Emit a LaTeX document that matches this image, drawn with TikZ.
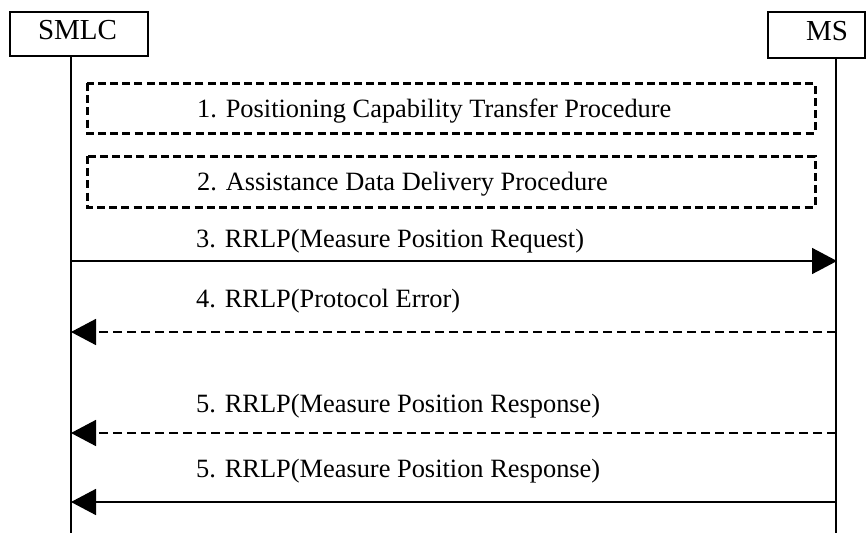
\documentclass[tikz,border=0pt]{standalone}
\usepackage{fontspec}
\setmainfont{Liberation Serif}
\usetikzlibrary{arrows.meta}
\begin{document}
\begin{tikzpicture}[x=1pt,y=-1pt,
  font=\fontsize{26.4}{30}\selectfont,
  entity/.style={draw,line width=1.3pt,inner sep=0pt},
  entname/.style={font=\fontsize{29}{32}\selectfont,inner sep=0pt,anchor=base},
  lifeline/.style={line width=1.5pt},
  procbox/.style={draw,line width=3pt,dash pattern=on 8pt off 4.2pt},
  msg/.style={line width=1.6pt,-{Triangle[length=25pt,width=26pt]}},
  dmsg/.style={msg,dash pattern=on 9pt off 5pt},
  lbl/.style={anchor=base west,inner sep=0pt}]
\useasboundingbox (0,0) rectangle (866,533);
% entities
\node[entity,minimum width=138pt,minimum height=44pt] (smlc) at (79,34) {};
\node[entname] (smlct) at (77.5,39) {SMLC};
\node[entity,minimum width=97pt,minimum height=46pt] (ms) at (816.5,35) {};
\node[entname] (mst) at (827,40) {MS};
% lifelines
\coordinate (sTop) at (71,56);
\coordinate (sBot) at (71,533);
\coordinate (mTop) at (836,58);
\coordinate (mBot) at (836,533);
\draw[lifeline] (sTop) -- (sBot);
\draw[lifeline] (mTop) -- (mBot);
% procedure boxes
\coordinate (b1a) at (87,83);
\coordinate (b1b) at (815,133);
\coordinate (b2a) at (87,156);
\coordinate (b2b) at (815,207);
\draw[procbox] (b1a) rectangle (b1b);
\draw[procbox] (b2a) rectangle (b2b);
\node[lbl] (t1) at (197,117) {1. Positioning Capability Transfer Procedure};
\node[lbl] (t2) at (197,190) {2. Assistance Data Delivery Procedure};
% messages
\coordinate (s3) at (71,261);  \coordinate (m3) at (837,261);
\coordinate (s4) at (71,332);  \coordinate (m4) at (836,332);
\coordinate (s5) at (71,433);  \coordinate (m5) at (836,433);
\coordinate (s6) at (71,502);  \coordinate (m6) at (836,502);
\draw[msg] (s3) -- (m3);
\draw[dmsg] (m4) -- (s4);
\draw[dmsg] (m5) -- (s5);
\draw[msg] (m6) -- (s6);
\node[lbl] (t3) at (196,247) {3. RRLP(Measure Position Request)};
\node[lbl] (t4) at (196,307) {4. RRLP(Protocol Error)};
\node[lbl] (t5) at (196,412) {5. RRLP(Measure Position Response)};
\node[lbl] (t6) at (196,477) {5. RRLP(Measure Position Response)};
\end{tikzpicture}
\end{document}
